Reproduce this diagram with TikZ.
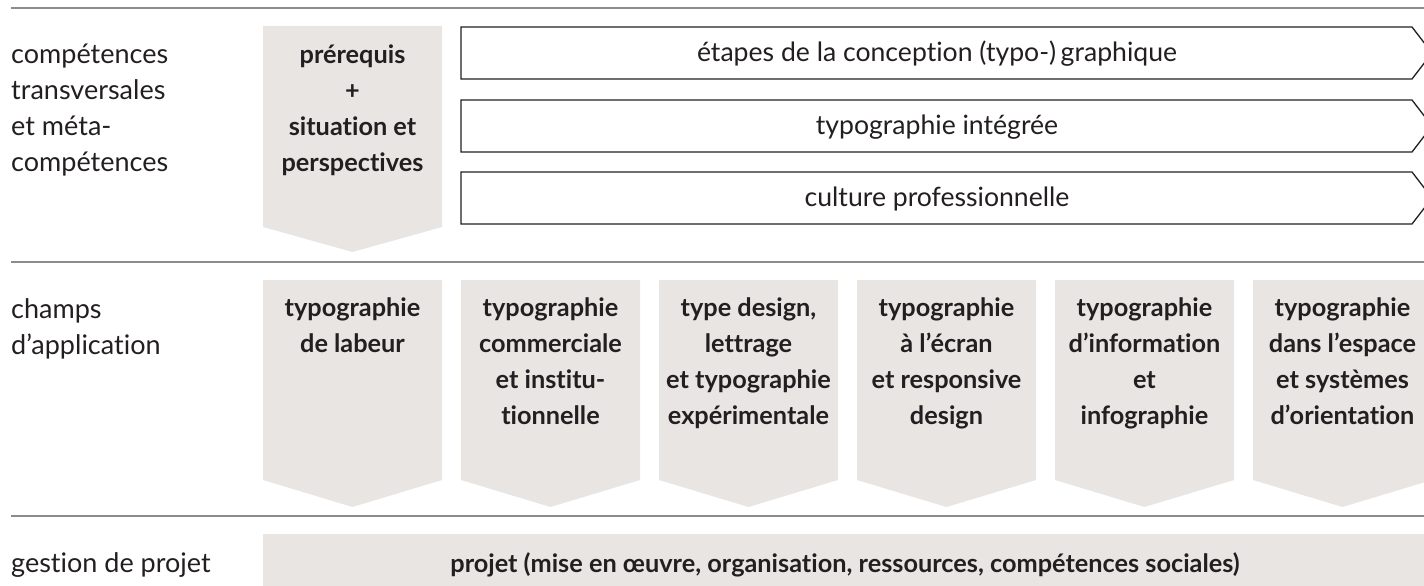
\documentclass[tikz,border=0pt]{standalone}
\usepackage{fontspec}
\setmainfont{Lato}[Ligatures={NoCommon,NoRare}]
\definecolor{boxfill}{HTML}{E9E5E2}
\definecolor{sepgray}{HTML}{8C8C8C}
\definecolor{ink}{HTML}{231F20}
\begin{document}
\begin{tikzpicture}[x=1pt,y=-1pt,
  sep/.style={draw=sepgray,line width=1.5pt},
  arr/.style={draw=ink,line width=1.3pt,fill=white,line join=miter},
  fld/.style={fill=boxfill},
  lbl/.style={inner sep=0pt,text=ink,align=left,font=\fontsize{27}{36}\selectfont},
  bld/.style={inner sep=0pt,text=ink,align=center,font=\fontsize{25.3}{36}\selectfont\bfseries},
  reg/.style={inner sep=0pt,text=ink,align=center,font=\fontsize{26.6}{36}\selectfont}]
\useasboundingbox (0,0) rectangle (1424,586);
\clip (0,0) rectangle (1424,586);
% separators
\draw[sep] (11,8) -- (1424,8);
\draw[sep] (11,262) -- (1424,262);
\draw[sep] (11,516) -- (1424,516);
% section 1
\fill[fld] (263,26) -- (442,26) -- (442,227) -- (352.5,252) -- (263,227) -- cycle;
\node[bld,anchor=base] (pre) at (352.5,171) {prérequis\\+\\situation et\\perspectives};
\draw[arr] (461,27) -- (1412,27) -- (1432,53) -- (1412,79) -- (461,79) -- cycle;
\draw[arr] (461,100) -- (1412,100) -- (1432,126) -- (1412,152) -- (461,152) -- cycle;
\draw[arr] (461,172) -- (1412,172) -- (1432,198) -- (1412,224) -- (461,224) -- cycle;
\node[reg,anchor=base] (a1) at (937,62) {étapes de la conception (typo-)\,graphique};
\node[reg,anchor=base] (a2) at (937,134) {typographie intégrée};
\node[reg,anchor=base] (a3) at (937,206) {culture professionnelle};
\node[lbl,anchor=base west] (l1) at (11,171) {compétences\\transversales\\et méta-\\compétences};
% section 2
\foreach \i in {0,...,5}{
  \pgfmathsetmacro{\L}{263+198*\i}
  \pgfmathsetmacro{\R}{\L+179}
  \pgfmathsetmacro{\C}{\L+89.5}
  \fill[fld] (\L,280) -- (\R,280) -- (\R,480) -- (\C,507) -- (\L,480) -- cycle;
}
\node[bld,anchor=base] (f1) at (352.5,352) {typographie\\de labeur};
\node[bld,anchor=base] (f2) at (550.5,424) {typographie\\commerciale\\et institu-\\tionnelle};
\node[bld,anchor=base] (f3) at (748.5,424) {type design,\\lettrage\\et typographie\\expérimentale};
\node[bld,anchor=base] (f4) at (946.5,424) {typographie\\à l’écran\\et responsive\\design};
\node[bld,anchor=base] (f5) at (1144.5,424) {typographie\\d’information\\et\\infographie};
\node[bld,anchor=base] (f6) at (1342.5,424) {typographie\\dans l’espace\\et systèmes\\d’orientation};
\node[lbl,anchor=base west] (l2) at (11,354) {champs\\d’application};
% section 3
\fill[fld] (263,534) rectangle (1430,592);
\node[bld,anchor=base] (p) at (845,572) {projet (mise en œuvre, organisation, ressources, compétences sociales)};
\node[lbl,anchor=base west] (l3) at (11,572) {gestion de projet};
\end{tikzpicture}
\end{document}
